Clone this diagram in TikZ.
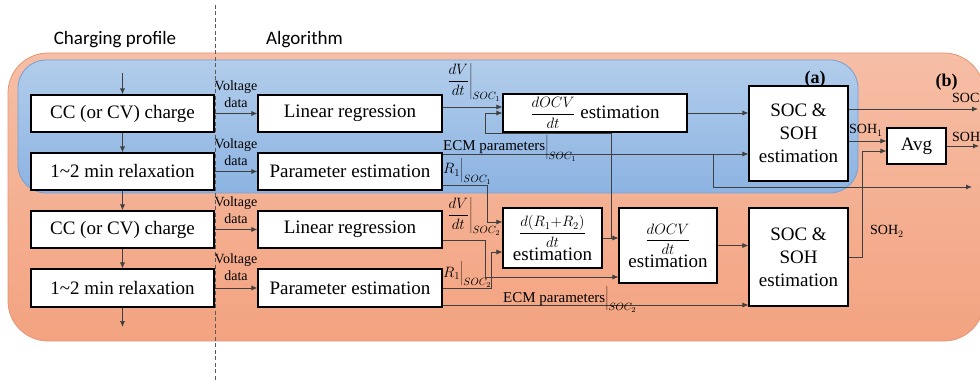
\documentclass[tikz,border=0pt]{standalone}
\usepackage{fix-cm}
\usepackage{fontspec}
\setmainfont{Liberation Serif}
\newfontfamily\boxserif{Liberation Serif}
\newfontfamily\labelsans{Carlito}
\usetikzlibrary{arrows.meta,calc}

\definecolor{linegray}{RGB}{64,64,64}
\definecolor{orangetop}{RGB}{246,190,166}
\definecolor{orangebot}{RGB}{243,163,128}
\definecolor{orangeedge}{RGB}{228,150,118}
\definecolor{bluetop}{RGB}{178,205,235}
\definecolor{bluebot}{RGB}{140,179,226}
\definecolor{blueedge}{RGB}{118,160,212}
\definecolor{dividergray}{RGB}{90,90,90}

% fraction set inside the process blocks
\newcommand\blockfrac[2]{{\fontsize{15}{18}\selectfont$\displaystyle\frac{#1}{#2}$}}

\begin{document}
\begin{tikzpicture}[x=1pt,y=-1pt,
  blk/.style={draw=black,line width=1.1pt,fill=white,inner sep=0pt,align=center,
    font=\boxserif\fontsize{19}{23}\selectfont},
  arr/.style={draw=linegray,line width=0.8pt,-{Latex[length=6pt,width=5pt]}},
  small/.style={font=\boxserif\fontsize{14}{17}\selectfont,inner sep=0pt},
  mlabel/.style={font=\boxserif\fontsize{15}{18}\selectfont,inner sep=0pt,anchor=base west},
  head/.style={font=\labelsans\fontsize{19}{23}\selectfont,inner sep=0pt,anchor=base},
  tag/.style={font=\boxserif\bfseries\fontsize{18}{22}\selectfont,inner sep=0pt,anchor=base},
  divider/.style={draw=dividergray,line width=0.8pt,dash pattern=on 4pt off 2.5pt},
]
\useasboundingbox (0,0) rectangle (980,382);

% background groups
\shadedraw[top color=orangetop,bottom color=orangebot,draw=orangeedge,line width=0.8pt,
  rounded corners=40pt] (8,53) rectangle (984,341);
\shadedraw[top color=bluetop,bottom color=bluebot,draw=blueedge,line width=0.8pt,
  rounded corners=28pt] (18,60) rectangle (858,193);

% split between charging profile and algorithm
\draw[divider] (215,5) -- (215,382);

% headings
\node[head] (hcp) at (115,45) {Charging profile};
\node[head] (halg) at (304.5,45) {Algorithm};
\node[tag] (ta) at (815,84) {(a)};
\node[tag] (tb) at (946.5,87) {(b)};

% charging profile
\node[blk,minimum width=183pt,minimum height=37pt] (cc1) at (122.5,113.5) {CC (or CV) charge};
\node[blk,minimum width=183pt,minimum height=37pt] (rl1) at (122.5,171.5) {1\textasciitilde 2 min relaxation};
\node[blk,minimum width=183pt,minimum height=37pt] (cc2) at (122.5,229.5) {CC (or CV) charge};
\node[blk,minimum width=183pt,minimum height=38pt] (rl2) at (122.5,288) {1\textasciitilde 2 min relaxation};

% algorithm blocks
\node[blk,minimum width=184pt,minimum height=37pt] (lr1) at (350,113.5) {Linear regression};
\node[blk,minimum width=184pt,minimum height=37pt] (pe1) at (350,171.5) {Parameter estimation};
\node[blk,minimum width=184pt,minimum height=37pt] (lr2) at (350,229.5) {Linear regression};
\node[blk,minimum width=184pt,minimum height=38pt] (pe2) at (350,288) {Parameter estimation};
\node[blk,minimum width=184pt,minimum height=38pt] (docv1) at (595,113) {\blockfrac{dOCV}{dt} estimation};
\node[blk,minimum width=99pt,minimum height=60pt] (dr) at (552.5,238) {\blockfrac{d(R_1{+}R_2)}{dt}\\estimation};
\node[blk,minimum width=98pt,minimum height=75pt] (docv2) at (668,245.5) {\blockfrac{dOCV}{dt}\\estimation};
\node[blk,minimum width=99pt,minimum height=95pt] (ss1) at (798.5,133.5) {SOC \&\\SOH\\estimation};
\node[blk,minimum width=99pt,minimum height=98pt] (ss2) at (798.5,257) {SOC \&\\SOH\\estimation};
\node[blk,minimum width=59pt,minimum height=36pt] (avg) at (916.5,146) {Avg};

% charging sequence
\coordinate (cin) at (122.5,73);
\coordinate (cout) at (122.5,327);
\draw[arr] (cin) -- (cc1.north);
\draw[arr] (cc1.south) -- (rl1.north);
\draw[arr] (rl1.south) -- (cc2.north);
\draw[arr] (cc2.south) -- (rl2.north);
\draw[arr] (rl2.south) -- (cout);

% voltage data
\draw[arr] (cc1.east) -- (lr1.west);
\draw[arr] (rl1.east) -- (pe1.west);
\draw[arr] (cc2.east) -- (lr2.west);
\draw[arr] (rl2.east) -- (pe2.west);
\node[small,align=center] (vd1) at (236,94.5) {Voltage\\data};
\node[small,align=center] (vd2) at (236,152.5) {Voltage\\data};
\node[small,align=center] (vd3) at (236,210) {Voltage\\data};
\node[small,align=center] (vd4) at (236,267.5) {Voltage\\data};

% first segment
\coordinate (lr1o) at ([yshift=6.5pt]lr1.east);
\draw[arr] (lr1o) -- (lr1o -| docv1.west);
\coordinate (pe1e) at ([yshift=17.5pt]pe1.east);
\draw[arr] (pe1e) -- (pe1e -| ss1.west);
\coordinate (ecms) at (713,154);
\coordinate (ecmo) at (972,187);
\draw[arr] (ecms) |- (ecmo);
\coordinate (pe1o) at ([yshift=-13.5pt]pe1.east);
\coordinate (j3) at (487,222);
\draw[arr] (pe1o) -| (j3) -- (j3 -| dr.west);
\draw[arr] (docv1.east) -- (docv1.east -| ss1.west);

% second segment
\coordinate (lr2o) at ([yshift=-10.5pt]lr2.east);
\coordinate (j2) at (485,277);
\draw[arr] (lr2o) -| (j2) -- (j2 -| docv2.west);
\coordinate (j4) at (491,252);
\draw[arr] (pe2.east) -| (j4) -- (j4 -| dr.west);
\coordinate (pe2e) at ([yshift=-17pt]pe2.east);
\draw[arr] (pe2e) -- (pe2e -| ss2.west);
\draw[arr] (dr.east) -- (dr.east -| docv2.west);
\coordinate (fbk) at ([xshift=9pt]dr.east);
\coordinate (fbtop) at (485,133);
\draw[arr] (fbk) |- (fbtop) |- (docv1.west);
\draw[arr] (docv2.east) -- (docv2.east -| ss2.west);

% outputs
\coordinate (ss1soc) at ([yshift=24.5pt]ss1.east);
\coordinate (socout) at (978,109);
\draw[arr] (ss1soc) -- (socout);
\coordinate (ss1soh) at ([yshift=-7.5pt]ss1.east);
\draw[arr] (ss1soh) -- (ss1soh -| avg.west);
\coordinate (j5) at (862,151);
\draw[arr] (ss2.east) -| (j5) -- (j5 -| avg.west);
\coordinate (sohout) at (979,146);
\draw[arr] (avg.east) -- (sohout);

% signal labels
\node[mlabel] (lab1) at (446,85) {$\left.\displaystyle\frac{dV}{dt}\right|_{SOC_1}$};
\node[mlabel] (lab2) at (443,174) {$R_1\bigg|_{SOC_1}$};
\node[mlabel] (lab3) at (443,151) {ECM parameters$\bigg|_{SOC_1}$};
\node[mlabel] (lab4) at (446,219) {$\left.\displaystyle\frac{dV}{dt}\right|_{SOC_2}$};
\node[mlabel] (lab5) at (443,277) {$R_1\bigg|_{SOC_2}$};
\node[mlabel] (lab6) at (503,302) {ECM parameters$\bigg|_{SOC_2}$};
\node[small,anchor=base west] (lsoc) at (952,103) {SOC};
\node[small,anchor=base west] (lsoh) at (952,142) {SOH};
\node[small,anchor=base west] (lsoh1) at (849,134) {SOH$_1$};
\node[small,anchor=base west] (lsoh2) at (870,235) {SOH$_2$};
\end{tikzpicture}
\end{document}
